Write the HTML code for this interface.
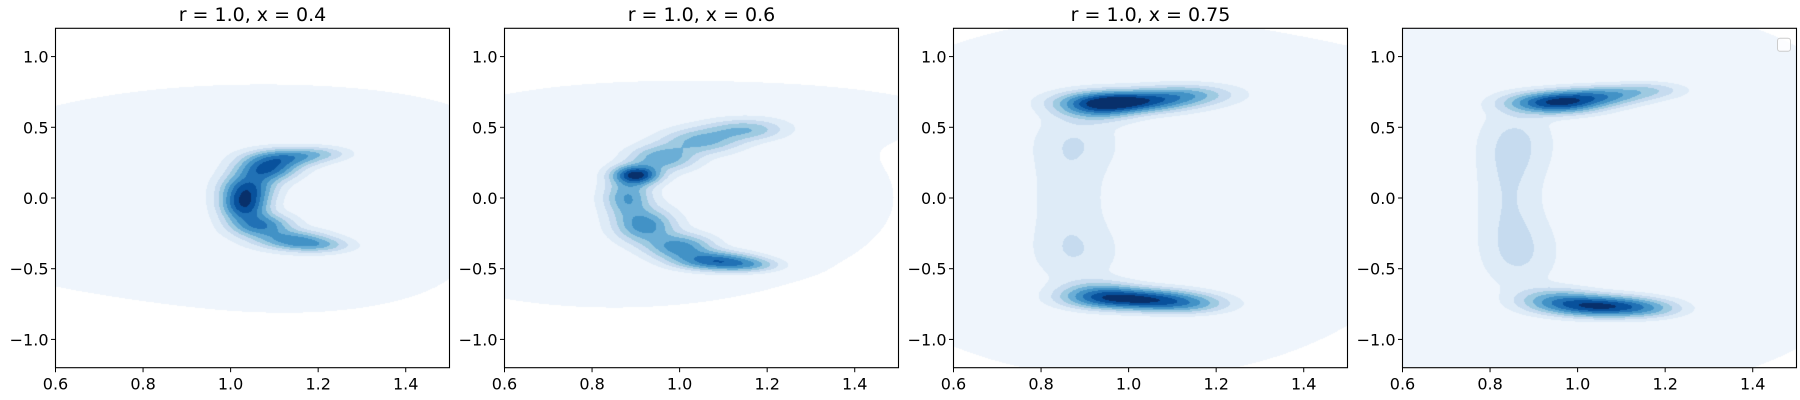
<!DOCTYPE html>
<html><head><meta charset="utf-8">
<style>
body{margin:0;background:#fff;width:1800px;height:400px;overflow:hidden;font-family:"DejaVu Sans","Liberation Sans",sans-serif;}
#wrap{position:relative;width:1800px;height:400px;}
canvas{position:absolute;}
svg{position:absolute;left:0;top:0;}
</style></head>
<body>
<div id="wrap">
<svg id="svg" width="1800" height="400"></svg>
</div>
<script>
const titles = ["r = 1.0, x = 0.4", "r = 1.0, x = 0.6", "r = 1.0, x = 0.75", ""];
const xTicks = [0.6, 0.8, 1.0, 1.2, 1.4];
const xTickLabels = ["0.6", "0.8", "1.0", "1.2", "1.4"];
const yTicks = [1.0, 0.5, 0.0, -0.5, -1.0];
const yTickLabels = ["1.0", "0.5", "0.0", "\u22120.5", "\u22121.0"];
// density blobs per panel: [cx, cy, sx, sy, amplitude]
const blobs1 = [[0.9,0.0,0.45,0.5,0.06],[1.2,-0.5,0.2,0.2,0.03],[1.2,0.55,0.25,0.15,0.03],
 [1.12,0.28,0.055,0.045,0.45],[1.08,0.2,0.045,0.055,0.6],[1.04,0.08,0.04,0.065,0.5],[1.03,-0.05,0.035,0.08,0.75],
 [1.07,-0.2,0.045,0.055,0.5],[1.14,-0.3,0.055,0.045,0.42],[1.2,-0.34,0.05,0.035,0.25],[1.2,0.31,0.05,0.035,0.2]];
const blobs2 = [[0.85,0.0,0.45,0.55,0.06],[1.25,0.6,0.25,0.12,0.035],
 [1.15,0.48,0.06,0.05,0.3],[1.05,0.4,0.06,0.06,0.35],[0.96,0.28,0.05,0.06,0.4],[0.9,0.16,0.035,0.045,0.8],
 [0.88,0.0,0.035,0.09,0.42],[0.92,-0.2,0.045,0.08,0.48],[1.0,-0.35,0.05,0.06,0.48],[1.08,-0.45,0.06,0.045,0.6],[1.16,-0.48,0.05,0.035,0.28]];
const blobs3 = [[1.0,0.0,0.55,1.0,0.05],[1.2,0.8,0.3,0.15,0.03],
 [1.0,0.68,0.09,0.05,0.75],[0.93,0.64,0.06,0.06,0.45],[1.13,0.73,0.07,0.045,0.3],
 [1.02,-0.72,0.09,0.05,0.75],[1.13,-0.76,0.07,0.045,0.3],[0.93,-0.68,0.06,0.06,0.35],
 [0.88,0.4,0.07,0.15,0.1],[0.86,0.0,0.06,0.3,0.1],[0.88,-0.4,0.07,0.15,0.1]];
const blobs4 = [[1.0,0.0,0.6,1.1,0.05],
 [0.95,0.67,0.07,0.05,0.78],[1.05,0.72,0.07,0.045,0.42],[1.16,0.76,0.06,0.04,0.2],
 [1.05,-0.77,0.08,0.05,0.78],[0.95,-0.72,0.06,0.055,0.32],[1.16,-0.79,0.06,0.045,0.22],
 [0.86,0.4,0.06,0.18,0.12],[0.84,0.0,0.05,0.3,0.12],[0.87,-0.4,0.06,0.18,0.12]];
const panelBlobs = [blobs1, blobs2, blobs3, blobs4];
const levels = [0.022,0.1,0.18,0.27,0.37,0.48,0.6,0.72,0.85];
const colors = [[239,245,252],[222,235,247],[198,219,239],[158,202,225],[107,174,214],[66,146,198],[33,113,181],[8,81,156],[8,48,107]];

const L0=55.5, STEP=449, W=394, T=28.3, H=339.4;
const xmin=0.6,xmax=1.5,ymin=-1.2,ymax=1.2;
const NS="http://www.w3.org/2000/svg";
const svg=document.getElementById('svg');
const wrap=document.getElementById('wrap');
function el(t,a,p){const e=document.createElementNS(NS,t);for(const k in a)e.setAttribute(k,a[k]);(p||svg).appendChild(e);return e;}

panelBlobs.forEach((bl,pi)=>{
  const left=L0+pi*STEP;
  const sx=v=>left+(v-xmin)/(xmax-xmin)*W;
  const sy=v=>T+(ymax-v)/(ymax-ymin)*H;
  const cv=document.createElement('canvas');
  cv.width=Math.round(W);cv.height=Math.round(H);
  cv.style.left=left+'px';cv.style.top=T+'px';
  
  
  wrap.insertBefore(cv,svg);
  const ctx=cv.getContext('2d');
  const img=ctx.createImageData(cv.width,cv.height);
  for(let j=0;j<cv.height;j++){
    const y=ymax-(j+0.5)/cv.height*(ymax-ymin);
    for(let i=0;i<cv.width;i++){
      const x=xmin+(i+0.5)/cv.width*(xmax-xmin);
      let d=0;
      for(const b of bl){const dx=(x-b[0])/b[2],dy=(y-b[1])/b[3];d+=b[4]*Math.exp(-0.5*(dx*dx+dy*dy));}
      let lv=-1;for(let k=0;k<levels.length;k++)if(d>=levels[k])lv=k;
      const c=lv<0?[255,255,255]:colors[lv];
      const o=(j*cv.width+i)*4;img.data[o]=c[0];img.data[o+1]=c[1];img.data[o+2]=c[2];img.data[o+3]=255;
    }
  }
  ctx.putImageData(img,0,0);
  const g=el('g',{});
  
  
  const fr=el('rect',{x:left,y:T,width:W,height:H,fill:'none',stroke:'#000','stroke-width':1.1},g);
  
  
  xTicks.forEach((v,k)=>{
    el('line',{x1:sx(v),x2:sx(v),y1:T+H,y2:T+H+4.5,stroke:'#000','stroke-width':1},g);
    const t=el('text',{x:sx(v),y:T+H+22,'text-anchor':'middle','font-size':16,fill:'#000'},g);
    t.textContent=xTickLabels[k];
    
    
  });
  yTicks.forEach((v,k)=>{
    el('line',{x1:left-4.5,x2:left,y1:sy(v),y2:sy(v),stroke:'#000','stroke-width':1},g);
    const t=el('text',{x:left-7,y:sy(v)+6,'text-anchor':'end','font-size':16,fill:'#000'},g);
    t.textContent=yTickLabels[k];
    
    
  });
  if(titles[pi]){
    const t=el('text',{x:left+W/2,y:21,'text-anchor':'middle','font-size':19,fill:'#000'},g);
    t.textContent=titles[pi];
    
    
  }
  if(pi===3){
    const lg=el('rect',{x:left+W-19,y:T+10,width:13,height:13,rx:2.5,fill:'#fff','fill-opacity':0.8,stroke:'#ccc','stroke-width':1},g);
    
    
  }
});
</script>
</body></html>
